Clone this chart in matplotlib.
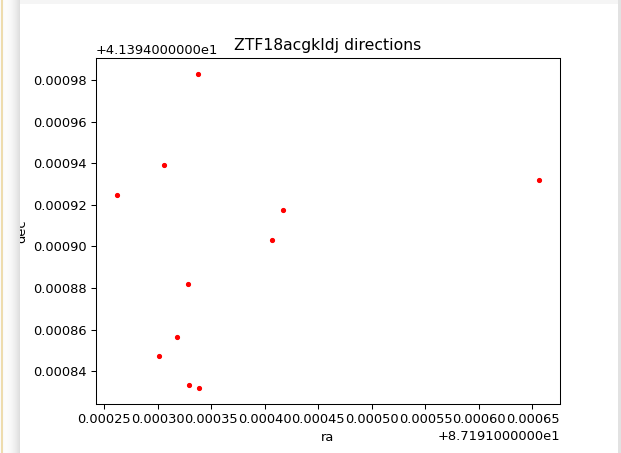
import numpy as np
import matplotlib
matplotlib.use('Agg')
import matplotlib.pyplot as plt
from matplotlib.patches import Rectangle
from matplotlib.ticker import FuncFormatter

# positions of the object detections (deg)
ra = [87.1913379, 87.1913058, 87.1912619, 87.1914167, 87.1914070, 87.1913282,
      87.1913179, 87.1913011, 87.1913292, 87.1913388, 87.1916560]
dec = [41.3949830, 41.3949389, 41.3949249, 41.3949177, 41.3949030, 41.3948817,
       41.3948565, 41.3948475, 41.3948336, 41.3948318, 41.3949317]

title = 'ZTF18acgkldj directions'
ra_off = 87.191
dec_off = 41.394

dpi = 93.5
fig = plt.figure(figsize=(621 / dpi, 453 / dpi), dpi=dpi)
fig.patch.set_facecolor('white')

ax = fig.add_axes([96 / 621, 49 / 453, 464 / 621, 346 / 453])
ax.plot(ra, dec, 'r.')
ax.set_title(title)
ax.set_xlabel('ra')
ax.set_ylabel('dec')

# old-style offset formatting: fixed decimals, long offset string
xfmt = FuncFormatter(lambda v, pos: '%1.5f' % (v - ra_off))
xfmt.set_offset_string('+8.7191000000e1')
yfmt = FuncFormatter(lambda v, pos: '%1.5f' % (v - dec_off))
yfmt.set_offset_string('+4.1394000000e1')
ax.xaxis.set_major_formatter(xfmt)
ax.yaxis.set_major_formatter(yfmt)

# screenshot frame: shadow strip on the left, top and right
W, H = 621, 453
fig.patches.append(Rectangle((0, 0), 20 / W, 1, transform=fig.transFigure,
                             facecolor='#fafafa', edgecolor='none', zorder=10))
fig.patches.append(Rectangle((1 / W, 0), 2 / W, 1, transform=fig.transFigure,
                             facecolor='#eedcae', edgecolor='none', zorder=11))
for i in range(16):
    c = 0.99 - 0.12 * (i / 15.0) ** 2
    fig.patches.append(Rectangle(((4 + i) / W, 0), 1 / W, 1, transform=fig.transFigure,
                                 facecolor=(c, c, c), edgecolor='none', zorder=11))
fig.patches.append(Rectangle((20 / W, 1 - 4 / H), 1, 4 / H, transform=fig.transFigure,
                             facecolor='#f5f5f5', edgecolor='none', zorder=10))
fig.patches.append(Rectangle((618 / W, 0), 3 / W, 1, transform=fig.transFigure,
                             facecolor='#e2e2e2', edgecolor='none', zorder=10))

fig.savefig('out.png', dpi=dpi)
